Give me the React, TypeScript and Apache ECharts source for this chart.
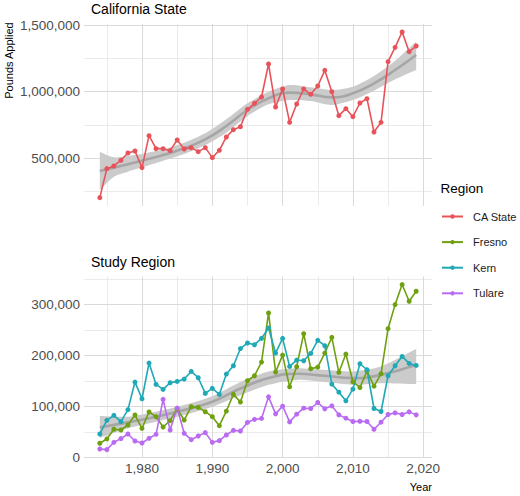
import React, { useEffect, useRef } from "react";
import * as echarts from "echarts";

const years = [1974, 1975, 1976, 1977, 1978, 1979, 1980, 1981, 1982, 1983, 1984, 1985, 1986, 1987, 1988, 1989, 1990, 1991, 1992, 1993, 1994, 1995, 1996, 1997, 1998, 1999, 2000, 2001, 2002, 2003, 2004, 2005, 2006, 2007, 2008, 2009, 2010, 2011, 2012, 2013, 2014, 2015, 2016, 2017, 2018, 2019];

const caState = [205000, 422500, 442500, 485000, 540000, 555000, 430000, 670000, 572500, 572500, 557500, 637500, 570000, 580000, 550000, 580000, 505000, 560000, 660000, 715000, 737500, 867500, 912500, 960000, 1207500, 885000, 1020000, 770000, 907500, 1020000, 980000, 1042500, 1160000, 1000000, 820000, 872500, 812500, 915000, 947500, 697500, 770000, 1225000, 1332500, 1447500, 1300000, 1342500];
const fresno = [27500, 36000, 55000, 53600, 63400, 83000, 56900, 88900, 79700, 59500, 71900, 94800, 73200, 99300, 98000, 89500, 79700, 62100, 90800, 123500, 108500, 150300, 160100, 187000, 283400, 167300, 200700, 138400, 177800, 242700, 173800, 177100, 204700, 235500, 166600, 202700, 148300, 137100, 169200, 139700, 164000, 252600, 299800, 339200, 306400, 326000];
const kern = [45800, 72500, 82400, 69900, 93500, 147700, 115000, 185000, 143100, 133300, 146400, 149000, 153600, 168600, 156200, 125500, 135300, 123500, 163400, 179700, 213500, 224500, 221000, 233500, 253900, 204700, 233500, 178400, 190900, 189600, 204000, 229600, 219100, 143700, 127900, 110900, 133800, 183700, 171900, 95800, 89900, 160100, 179700, 198100, 184300, 180400];
const tulare = [16300, 15000, 29400, 36600, 45800, 32000, 28100, 37300, 45100, 113700, 53600, 96700, 47100, 34600, 41800, 48400, 29400, 32700, 43800, 52900, 51700, 68400, 74500, 76300, 118700, 85300, 100400, 69500, 84600, 96400, 95800, 107600, 95100, 101000, 83300, 76800, 70200, 70800, 70200, 55100, 68900, 84000, 87200, 84000, 89200, 83300];

// loess smooth
const caFitYears = [1974, 1976, 1978, 1980, 1983, 1986, 1989, 1992, 1995, 1998, 2001, 2004, 2007, 2010, 2013, 2016, 2019];
const caFit = [405000, 430000, 455000, 482500, 525000, 575000, 642500, 742500, 862500, 950000, 992500, 980000, 957500, 987500, 1062500, 1162500, 1275000];
const caLo = [262500, 362500, 400000, 432500, 482500, 532500, 600000, 692500, 817500, 905000, 937500, 930000, 900000, 937500, 1007500, 1092500, 1162500];
const caHi = [547500, 507500, 517500, 532500, 567500, 617500, 687500, 792500, 912500, 1000000, 1050000, 1032500, 1012500, 1037500, 1117500, 1232500, 1375000];

const srFitYears = [1974, 1978, 1982, 1986, 1990, 1994, 1998, 2002, 2006, 2010, 2014, 2019];
const srFit = [58800, 68600, 79700, 92800, 109000, 135000, 155500, 164000, 160000, 155500, 162000, 181700];
const srLo = [38000, 56900, 70000, 83000, 99300, 122000, 142400, 152000, 147600, 142400, 145600, 143700];
const srHi = [81000, 79700, 89500, 102600, 120000, 148000, 168600, 175000, 171900, 168600, 178400, 212500];

const xMajor = [1980, 1990, 2000, 2010, 2020];
const xMinor = [1975, 1985, 1995, 2005, 2015];
const caMajor = [500000, 1000000, 1500000];
const caMinor = [250000, 750000, 1250000];
const srMajor = [0, 100000, 200000, 300000];
const srMinor = [50000, 150000, 250000, 350000];

const regionNames = ["CA State", "Fresno", "Kern", "Tulare"];
const colors = ["#E8535A", "#6FA010", "#1FA9B6", "#B96BF2"];

const FONT = "'Liberation Sans', Arial, sans-serif";

export default function App() {
  const ref = useRef<HTMLDivElement>(null);
  useEffect(() => {
    document.body.style.margin = "0";
    const chart = echarts.init(ref.current!, null, { renderer: "svg" });

    const majorStyle = { color: "#DADADA", width: 1, type: "solid", opacity: 1 };
    const minorStyle = { color: "#E6E6E6", width: 0.8, type: "solid", opacity: 1 };
    const gridLines = (yMaj: number[], yMin: number[]) => [
      ...xMinor.map((v) => ({ xAxis: v, lineStyle: minorStyle })),
      ...yMin.map((v) => ({ yAxis: v, lineStyle: minorStyle })),
      ...xMajor.map((v) => ({ xAxis: v, lineStyle: majorStyle })),
      ...yMaj.map((v) => ({ yAxis: v, lineStyle: majorStyle })),
    ];

    const bandSeries = (idx: number, fy: number[], lo: number[], hi: number[], fit: number[], yMaj: number[], yMin: number[]) => [
      {
        type: "custom",
        coordinateSystem: "cartesian2d",
        xAxisIndex: idx,
        yAxisIndex: idx,
        data: [[fy[0], fit[0]]],
        silent: true,
        z: 1,
        renderItem: (_params: any, api: any) => {
          const top = fy.map((y, i) => api.coord([y, hi[i]]));
          const bot = fy.map((y, i) => api.coord([y, lo[i]])).reverse();
          // repeat the corner points so the band ends stay straight
          const pts = [top[0], ...top, top[top.length - 1], bot[0], ...bot, bot[bot.length - 1]];
          return {
            type: "polygon",
            shape: { points: pts, smooth: 0.25 },
            style: { fill: "#CBCBCB", stroke: null },
          };
        },
      },
      {
        type: "line",
        xAxisIndex: idx,
        yAxisIndex: idx,
        data: fy.map((y, i) => [y, fit[i]]),
        smooth: true,
        symbol: "none",
        showSymbol: false,
        lineStyle: { color: "#A6A6A6", width: 2.6 },
        z: 2,
        silent: true,
        markLine: {
          silent: true,
          z: 0,
          symbol: ["none", "none"],
          label: { show: false },
          emphasis: { disabled: true },
          data: gridLines(yMaj, yMin),
        },
      },
    ];

    const dataSeries = (name: string, vals: number[], color: string, idx: number) => ({
      type: "line",
      name,
      xAxisIndex: idx,
      yAxisIndex: idx,
      data: years.map((y, i) => [y, vals[i]]),
      symbol: "circle",
      symbolSize: 5,
      showSymbol: true,
      itemStyle: { color },
      lineStyle: { color, width: 1.6 },
      z: 4,
    });

    const labelStyle = { color: "#4D4D4D", fontSize: 13.5, fontFamily: FONT };
    const fmt = (v: number) => v.toLocaleString("en-US");

    chart.setOption({
      animation: false,
      grid: [
        { left: 84, top: 23.7, width: 348, height: 182.2 },
        { left: 84, top: 276.3, width: 348, height: 181.6 },
      ],
      xAxis: [0, 1].map((i) => ({
        type: "value",
        gridIndex: i,
        min: 1971.75,
        max: 2021.25,
        axisLine: { show: false },
        axisTick: { show: false },
        splitLine: { show: false },
        axisLabel: {
          show: i === 1,
          customValues: xMajor,
          margin: 4,
          ...labelStyle,
        },
      })),
      yAxis: [
        {
          type: "value",
          gridIndex: 0,
          min: 143000,
          max: 1510000,
          axisLine: { show: false },
          axisTick: { show: false },
          splitLine: { show: false },
          axisLabel: { customValues: caMajor, formatter: fmt, margin: 4, ...labelStyle },
        },
        {
          type: "value",
          gridIndex: 1,
          min: -1200,
          max: 355400,
          axisLine: { show: false },
          axisTick: { show: false },
          splitLine: { show: false },
          axisLabel: { customValues: srMajor, formatter: fmt, margin: 4, ...labelStyle },
        },
      ],
      legend: {
        data: regionNames,
        orient: "vertical",
        left: 436,
        top: 206,
        itemWidth: 21,
        itemHeight: 5.5,
        itemGap: 14.6,
        textStyle: { fontSize: 11, color: "#1A1A1A", fontFamily: FONT, padding: [0, 0, 0, 5] },
        selectedMode: false,
      },
      graphic: [
        { type: "text", left: 91, top: 2, style: { text: "California State", fontSize: 14, fill: "#000", fontFamily: FONT } },
        { type: "text", left: 91, top: 255, style: { text: "Study Region", fontSize: 14, fill: "#000", fontFamily: FONT } },
        { type: "text", left: 440.5, top: 181, style: { text: "Region", fontSize: 13.5, fill: "#000", fontFamily: FONT } },
        { type: "text", x: 9, y: 60.5, rotation: Math.PI / 2, style: { text: "Pounds Applied", fontSize: 11, fill: "#000", fontFamily: FONT, align: "center", verticalAlign: "middle" } },
        { type: "text", x: 432, y: 487, style: { text: "Year", fontSize: 11, fill: "#000", fontFamily: FONT, align: "right", verticalAlign: "middle" } },
      ],
      series: [
        ...bandSeries(0, caFitYears, caLo, caHi, caFit, caMajor, caMinor),
        ...bandSeries(1, srFitYears, srLo, srHi, srFit, srMajor, srMinor),
        dataSeries(regionNames[0], caState, colors[0], 0),
        dataSeries(regionNames[1], fresno, colors[1], 1),
        dataSeries(regionNames[2], kern, colors[2], 1),
        dataSeries(regionNames[3], tulare, colors[3], 1),
      ],
    });
    return () => chart.dispose();
  }, []);
  return <div ref={ref} style={{ width: 520, height: 496 }} />;
}
